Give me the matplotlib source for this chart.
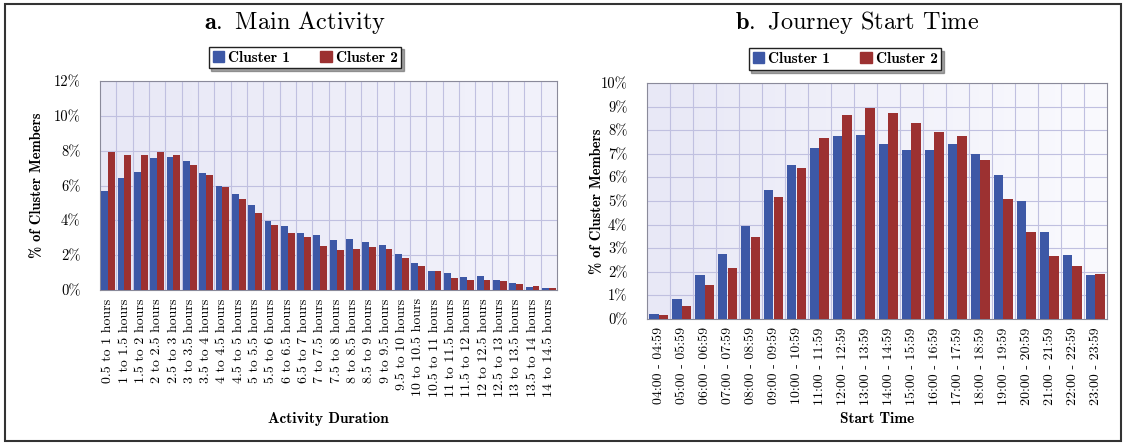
import numpy as np
import matplotlib
matplotlib.use("Agg")
import matplotlib.pyplot as plt
from matplotlib.patches import Rectangle, Patch

plt.rcParams["font.family"] = ["cmr10", "DejaVu Serif"]
plt.rcParams["mathtext.fontset"] = "cm"
plt.rcParams["axes.unicode_minus"] = False

# ---- data ----
duration_labels = [
    "0.5 to 1 hours", "1 to 1.5 hours", "1.5 to 2 hours", "2 to 2.5 hours",
    "2.5 to 3 hours", "3 to 3.5 hours", "3.5 to 4 hours", "4 to 4.5 hours",
    "4.5 to 5 hours", "5 to 5.5 hours", "5.5 to 6 hours", "6 to 6.5 hours",
    "6.5 to 7 hours", "7 to 7.5 hours", "7.5 to 8 hours", "8 to 8.5 hours",
    "8.5 to 9 hours", "9 to 9.5 hours", "9.5 to 10 hours", "10 to 10.5 hours",
    "10.5 to 11 hours", "11 to 11.5 hours", "11.5 to 12 hours", "12 to 12.5 hours",
    "12.5 to 13 hours", "13 to 13.5 hours", "13.5 to 14 hours", "14 to 14.5 hours",
]
duration_c1 = [5.7, 6.45, 6.8, 7.6, 7.65, 7.4, 6.7, 5.95, 5.5, 4.9, 3.95, 3.65, 3.25, 3.15,
               2.85, 2.95, 2.75, 2.6, 2.05, 1.55, 1.1, 1.0, 0.75, 0.8, 0.57, 0.42, 0.2, 0.12]
duration_c2 = [7.95, 7.75, 7.75, 7.9, 7.75, 7.15, 6.62, 5.9, 5.25, 4.4, 3.72, 3.28, 3.05, 2.55,
               2.3, 2.35, 2.45, 2.35, 1.85, 1.4, 1.07, 0.7, 0.57, 0.57, 0.5, 0.34, 0.22, 0.12]

start_labels = ["%02d:00 - %02d:59" % (h, h) for h in range(4, 24)]
start_c1 = [0.2, 0.85, 1.87, 2.75, 3.95, 5.45, 6.52, 7.26, 7.74, 7.8,
            7.4, 7.14, 7.17, 7.43, 7.0, 6.1, 5.0, 3.7, 2.71, 1.86]
start_c2 = [0.15, 0.55, 1.42, 2.18, 3.48, 5.17, 6.38, 7.68, 8.64, 8.92,
            8.73, 8.31, 7.94, 7.77, 6.75, 5.08, 3.67, 2.65, 2.26, 1.89]

BLUE = "#3d58a6"
RED = "#9c3131"
GRID = "#c0c0e0"

fig = plt.figure(figsize=(11.26, 4.44), dpi=100)
W, H = 1126.0, 444.0


def fpos(x0, y0, x1, y1):
    # pixel box -> figure fraction [left, bottom, width, height]
    return [x0 / W, 1 - y1 / H, (x1 - x0) / W, (y1 - y0) / H]


def draw_panel(ax, labels, c1, c2, ymax, ystep, xlab, ylab_x, xlab_y, bg):
    n = len(labels)
    x = np.arange(n)
    w = 0.42
    grad = np.linspace(0, 1, 256).reshape(1, -1)
    cmap = matplotlib.colors.LinearSegmentedColormap.from_list("bg", bg)
    ax.imshow(grad, cmap=cmap, aspect="auto", extent=[0, 1, 0, 1],
              transform=ax.transAxes, zorder=0)
    ax.bar(x - w / 2, c1, w, color=BLUE, zorder=3)
    ax.bar(x + w / 2, c2, w, color=RED, zorder=3)
    ax.set_xlim(-0.5, n - 0.5)
    ax.set_ylim(0, ymax)
    yt = np.arange(0, ymax + 0.01, ystep)
    ax.set_yticks(yt)
    ax.set_yticklabels(["%d%%" % v for v in yt], fontsize=10.5)
    for v in yt[1:]:
        ax.axhline(v, color=GRID, lw=0.8, zorder=1)
    for b in np.arange(0.5, n - 0.5):
        ax.axvline(b, color=GRID, lw=0.8, zorder=1)
    ax.set_xticks(x)
    ax.set_xticklabels(labels, rotation=90, fontsize=10)
    ax.tick_params(length=0, pad=6)
    ax.tick_params(axis="y", pad=14)
    for s in ax.spines.values():
        s.set_color("#8a8a9a")
        s.set_linewidth(0.8)
    ax.set_xlabel(xlab, family="cmb10", fontsize=11)
    ax.xaxis.set_label_coords(0.5, xlab_y)
    ax.set_ylabel("% of Cluster Members", family="cmb10", fontsize=10.5)
    ax.yaxis.set_label_coords(ylab_x, 0.5)


ax1 = fig.add_axes(fpos(100, 81, 557, 290))
draw_panel(ax1, duration_labels, duration_c1, duration_c2, 12, 2,
           "Activity Duration", -0.122, -0.585, ["#e8e8f6", "#f2f2fb"])

ax2 = fig.add_axes(fpos(647, 83, 1107, 319))
draw_panel(ax2, start_labels, start_c1, start_c2, 10, 1,
           "Start Time", -0.093, -0.395, ["#e8e8f6", "#fafafe"])

fig.text(295 / W, 1 - 22 / H, r"$\mathbf{a.}$ Main Activity", fontsize=17.5,
         ha="center", va="center")
fig.text(857 / W, 1 - 22 / H, r"$\mathbf{b.}$ Journey Start Time", fontsize=17.5,
         ha="center", va="center")

# legends sit above each panel, in figure coords
handles = [Patch(color=BLUE, label="Cluster 1"), Patch(color=RED, label="Cluster 2")]
for cx, cy in [(305, 57.5), (845, 59)]:
    leg = fig.legend(handles=handles, loc="center", bbox_to_anchor=(cx / W, 1 - cy / H),
                     ncol=2, frameon=True, fancybox=False, shadow=True,
                     prop={"family": "cmb10", "size": 11},
                     handlelength=0.75, handleheight=0.75, handletextpad=0.25,
                     columnspacing=2.0, borderpad=0.25, borderaxespad=0)
    leg.get_frame().set_edgecolor("#222222")
    leg.get_frame().set_linewidth(1.0)

fig.patches.append(Rectangle((5 / W, 3 / H), 1116 / W, 437 / H, transform=fig.transFigure,
                             fill=False, edgecolor="#333333", lw=1.5))

fig.savefig("out.png", dpi=100)
